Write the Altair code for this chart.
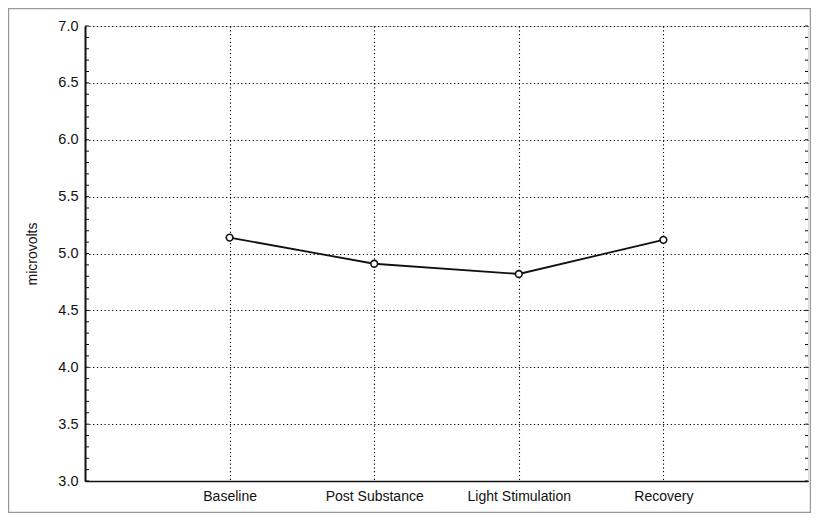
import altair as alt
import pandas as pd

# Data
categories = ["Baseline", "Post Substance", "Light Stimulation", "Recovery"]
values = [5.14, 4.91, 4.82, 5.12]
y_major = [3.0, 3.5, 4.0, 4.5, 5.0, 5.5, 6.0, 6.5, 7.0]
y_minor = [round(3.0 + 0.1 * i, 1) for i in range(41)]

W, H = 723, 455

df = pd.DataFrame({"phase": categories, "uv": values})
minor_df = pd.DataFrame({"v": y_minor})
frame_df = pd.DataFrame({"k": [0]})

FONT = "Liberation Sans"

x_enc = alt.X(
    "phase:N",
    sort=categories,
    scale=alt.Scale(type="point", padding=1),
    axis=alt.Axis(
        title=None, grid=True, gridDash=[1.2, 2.6], gridColor="#000", gridWidth=1.1,
        ticks=False, domain=True, domainColor="#111", domainWidth=1.5,
        labelFont=FONT, labelFontSize=14, labelColor="#111",
        labelPadding=8, labelAngle=0,
    ),
)
y_scale = alt.Scale(domain=[3, 7], nice=False, zero=False)
y_enc = alt.Y(
    "uv:Q",
    scale=y_scale,
    axis=alt.Axis(
        title="microvolts", values=y_major, format=".1f",
        grid=True, gridDash=[1.2, 2.6], gridColor="#000", gridWidth=1.1,
        ticks=False, domain=True, domainColor="#111", domainWidth=2,
        labelFont=FONT, labelFontSize=14.5, labelColor="#111", labelPadding=7,
        titleFont=FONT, titleFontSize=14, titleFontWeight="normal", titleColor="#111",
        titleX=-53, titleY=H / 2, titleAngle=-90, titleAlign="center", titleBaseline="middle",
    ),
)

line = alt.Chart(df).mark_line(color="#111", strokeWidth=1.8).encode(x=x_enc, y=y_enc)
pts = alt.Chart(df).mark_point(
    shape="circle", filled=True, fill="white", stroke="#111", strokeWidth=1.6, size=45, opacity=1
).encode(x=alt.X("phase:N", sort=categories), y=alt.Y("uv:Q"))

minor_left = alt.Chart(minor_df).mark_rule(color="#111", strokeWidth=1).encode(
    y=alt.Y("v:Q", scale=y_scale), x=alt.value(0), x2=alt.value(4)
)
minor_right = alt.Chart(minor_df).mark_rule(color="#111", strokeWidth=1).encode(
    y=alt.Y("v:Q", scale=y_scale), x=alt.value(W - 3), x2=alt.value(W)
)
outer = alt.Chart(frame_df).mark_rect(fill=None, stroke="#999", strokeWidth=1.5).encode(
    x=alt.value(-76.5), x2=alt.value(725.5), y=alt.value(-17.5), y2=alt.value(486.5)
)

chart = alt.layer(outer, line, pts, minor_left, minor_right).properties(
    width=W, height=H,
    padding={"left": 77, "top": 18, "right": 3, "bottom": 32},
    autosize=alt.AutoSizeParams(type="none"),
).configure_view(
    stroke="#111", strokeWidth=1.5
).configure(background="white")

chart.save("out.html", embed_options={"renderer": "svg", "actions": False})
